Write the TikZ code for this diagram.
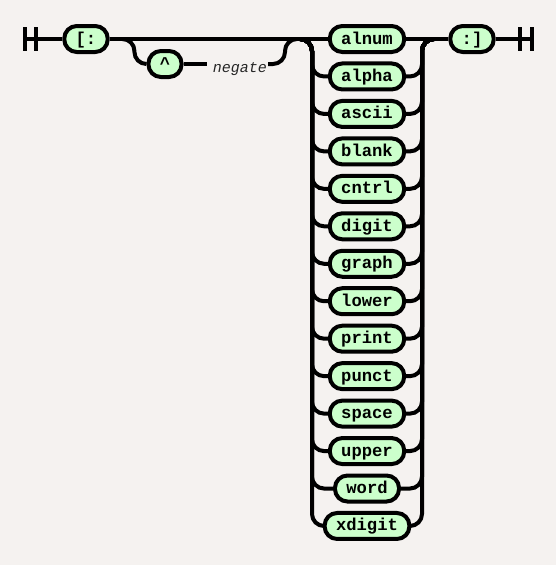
\documentclass[tikz,border=0pt]{standalone}
\usepackage{fontspec}
\setmonofont{Liberation Mono}
\definecolor{bgcol}{HTML}{F5F2F0}
\definecolor{termfill}{HTML}{CCFFCC}
\begin{document}
\begin{tikzpicture}[x=1pt,y=-1pt,
  rr/.style={line width=4pt},
  rrc/.style={line width=4pt,rounded corners=12pt},
  term/.style={draw,line width=4pt,fill=termfill,rounded corners=12.5pt,
    minimum height=26pt,inner xsep=11.4pt,inner ysep=0pt,
    font=\fontsize{17.2}{17.2}\selectfont\ttfamily\bfseries,
    text height=12pt,text depth=2pt},
  cmt/.style={inner sep=0pt,font=\fontsize{15}{15}\selectfont\ttfamily\itshape,text=black!85}]
\fill[bgcol] (0,0) rectangle (556,565);
\useasboundingbox (0,0) rectangle (556,565);
% terminals
\node[term] (lb) at (86,39) {[:};
\node[term] (caret) at (165,64) {\char`\^};
\node[term] (rb) at (472,39) {:]};
\node[cmt,anchor=base] (neg) at (240,72) {negate};
\foreach \t [count=\i from 0] in {alnum,alpha,ascii,blank,cntrl,digit,graph,lower,print,punct,space,upper,word,xdigit}
  \node[term] (c\i) at (367,39+37.46*\i) {\t};
% coordinates
\coordinate (st) at (25,39);
\coordinate (en) at (532,39);
\coordinate (oL) at (124.8,39);
\coordinate (oR) at (297,39);
\coordinate (negL) at (207,64);
\coordinate (negR) at (268,64);
\coordinate (cL) at (300,39);
\coordinate (railL) at (312,39);
\coordinate (railR) at (422,39);
\coordinate (cR) at (434,39);
% start / end markers
\draw[rr] (25,27) -- (25,51);
\draw[rr] (36,27) -- (36,51);
\draw[rr] (st) -- (lb.west);
\draw[rr] (520,27) -- (520,51);
\draw[rr] (532,27) -- (532,51);
\draw[rr] (rb.east) -- (en);
% main line
\draw[rr] (lb.east) -- (cL);
\draw[rr] (cR) -- (rb.west);
% optional negate
\draw[rrc] (oL) -| ([xshift=-12pt]caret.west) -- (caret.west);
\draw[rr] (caret.east) -- (negL);
\draw[rrc] (negR) -| ([xshift=-12pt]oR) -- (oR);
% choice
\draw[rr] (cL) -- (c0.west);
\draw[rr] (c0.east) -- (cR);
\foreach \i in {1,...,13}{
  \draw[rrc] (cL) -| (railL |- c\i.west) -- (c\i.west);
  \draw[rrc] (c\i.east) -- (railR |- c\i.east) |- (cR);
}
\end{tikzpicture}
\end{document}
